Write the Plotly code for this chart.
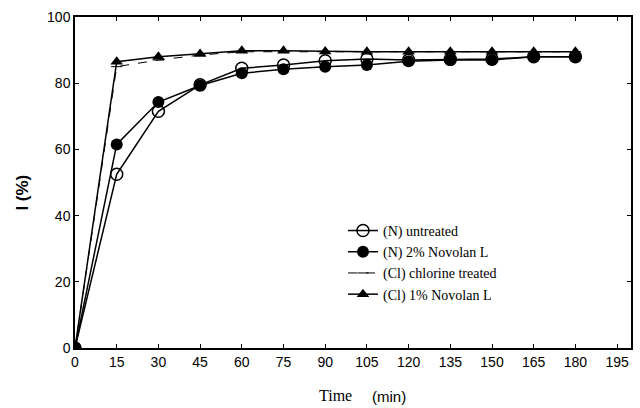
import plotly.graph_objects as go

time = [0, 15, 30, 45, 60, 75, 90, 105, 120, 135, 150, 165, 180]
n_untreated = [0, 52.5, 71.5, 79.5, 84.5, 85.5, 86.8, 87.3, 87.0, 87.2, 87.3, 88.0, 88.0]
n_novolan2 = [0, 61.5, 74.3, 79.3, 83.0, 84.2, 85.0, 85.5, 86.6, 87.0, 87.0, 88.0, 88.0]
cl_treated = [0, 85.0, 87.0, 88.5, 89.5, 89.5, 89.5, 89.5, 89.5, 89.5, 89.5, 89.5, 89.5]
cl_novolan1 = [0, 86.5, 88.0, 88.8, 89.8, 89.8, 89.6, 89.5, 89.5, 89.5, 89.5, 89.5, 89.5]
x_ticks = [0, 15, 30, 45, 60, 75, 90, 105, 120, 135, 150, 165, 180, 195]
y_ticks = [0, 20, 40, 60, 80, 100]

fig = go.Figure()
fig.add_trace(go.Scatter(x=time, y=n_untreated, mode="lines+markers", name="(N) untreated",
                         line=dict(color="black", width=1.5),
                         marker=dict(symbol="circle-open", size=12, color="black", line=dict(width=1.5))))
fig.add_trace(go.Scatter(x=time, y=n_novolan2, mode="lines+markers", name="(N) 2% Novolan L",
                         line=dict(color="black", width=1.5),
                         marker=dict(symbol="circle", size=12, color="black")))
fig.add_trace(go.Scatter(x=time, y=cl_treated, mode="lines+markers", name="(Cl) chlorine treated",
                         line=dict(color="black", width=1, dash="dash"),
                         marker=dict(symbol="line-ew", size=8, color="black", line=dict(width=1, color="black"))))
fig.add_trace(go.Scatter(x=time, y=cl_novolan1, mode="lines+markers", name="(Cl) 1% Novolan L",
                         line=dict(color="black", width=1.5),
                         marker=dict(symbol="triangle-up", size=11, color="black")))

axis_common = dict(showline=True, linecolor="black", linewidth=1.5, mirror="ticks",
                   ticks="inside", ticklen=4, tickcolor="black", showgrid=False, zeroline=False,
                   tickfont=dict(family="Liberation Sans, Arial", size=14, color="black"))
fig.update_xaxes(range=[0, 200], tickvals=x_ticks, **axis_common)
fig.update_yaxes(range=[0, 100], tickvals=y_ticks, **axis_common)

fig.update_layout(
    width=640, height=408,
    margin=dict(l=75, r=7, t=17, b=60),
    plot_bgcolor="white", paper_bgcolor="white",
    showlegend=True,
    legend=dict(x=0.482, y=0.402, xanchor="left", yanchor="top",
                font=dict(family="Liberation Serif, Times New Roman", size=14, color="black"),
                bgcolor="rgba(0,0,0,0)", itemwidth=30, tracegroupgap=0),
    annotations=[
        dict(text="Time", x=0.468, y=-0.143, xref="paper", yref="paper", showarrow=False,
             xanchor="center", yanchor="middle",
             font=dict(family="Liberation Serif, Times New Roman", size=16, color="black")),
        dict(text="(min)", x=0.565, y=-0.148, xref="paper", yref="paper", showarrow=False,
             xanchor="center", yanchor="middle",
             font=dict(family="Liberation Sans, Arial", size=15, color="black")),
        dict(text="<b>I (%)</b>", x=-0.095, y=0.47, xref="paper", yref="paper", showarrow=False,
             textangle=-90, xanchor="center", yanchor="middle",
             font=dict(family="Liberation Sans, Arial", size=17, color="black")),
    ],
)

fig.write_html("out.html")
